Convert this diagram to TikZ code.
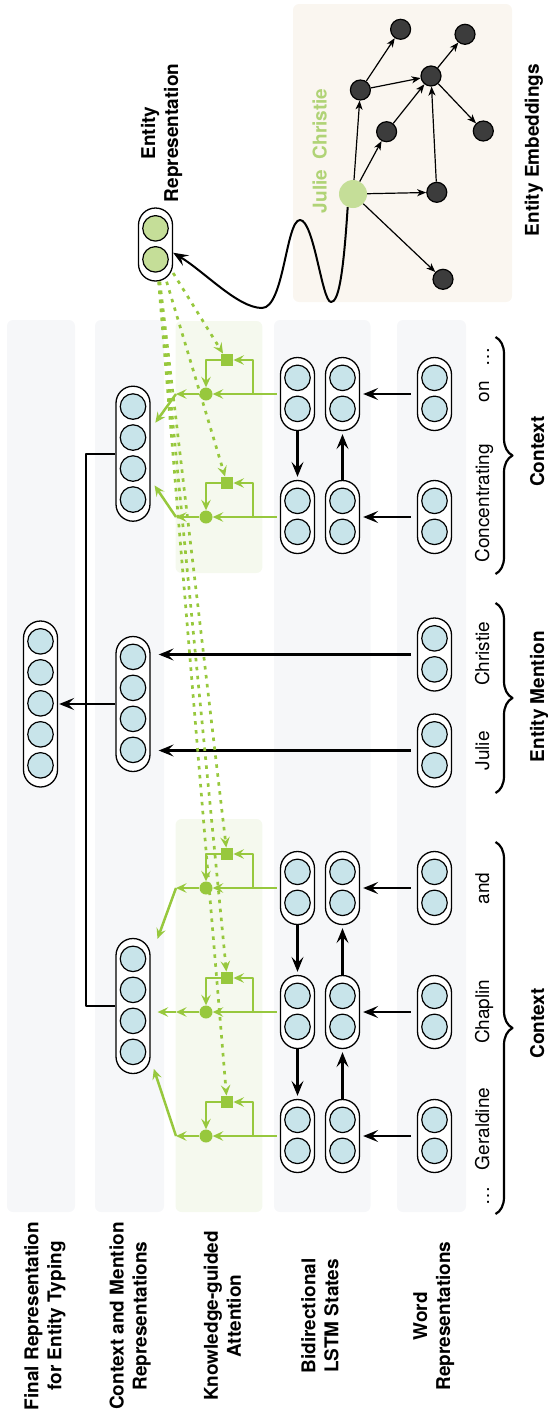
\documentclass[tikz,border=0pt]{standalone}
\usepackage{fontspec}
\setmainfont{TeX Gyre Heros}
\usetikzlibrary{arrows.meta,calc,decorations.pathreplacing}

\definecolor{cellblue}{RGB}{200,228,234}
\definecolor{attgreen}{RGB}{151,200,61}
\definecolor{ergreen}{RGB}{197,222,152}
\definecolor{jcgreen}{RGB}{176,211,118}
\definecolor{stripgray}{RGB}{246,247,249}
\definecolor{stripgreen}{RGB}{245,249,238}
\definecolor{kbbeige}{RGB}{250,246,240}
\definecolor{kbdark}{RGB}{60,60,60}

\tikzset{
  pill/.style={draw, fill=white, line width=1.3pt, rounded corners=17pt, minimum width=34pt, inner sep=0pt},
  cell/.style={circle, draw, line width=1.2pt, minimum size=25.5pt, inner sep=0pt},
  blk/.style={-{Stealth[length=15pt,width=12pt,inset=6pt]}, line width=2.3pt},
  conn/.style={line width=2pt},
  garr/.style={-{Stealth[length=10.5pt,width=9.5pt,inset=4pt]}, draw=attgreen, line width=2.5pt},
  dotarr/.style={garr, line width=2.7pt, dash pattern=on 3.5pt off 5.5pt},
  attdot/.style={circle, fill=attgreen, minimum size=13pt, inner sep=0pt},
  attsq/.style={rectangle, fill=attgreen, minimum size=12.5pt, inner sep=0pt},
  kbnode/.style={circle, draw=black, fill=kbdark, line width=1.2pt, minimum size=20pt, inner sep=0pt},
  kbarr/.style={-{Stealth[length=9pt,width=7pt,inset=2.5pt]}, line width=1.2pt},
  brc/.style={decorate, decoration={brace, amplitude=17pt}, line width=2.2pt},
  lbl/.style={rotate=90, align=center, font=\fontsize{19}{23}\selectfont\bfseries},
  wordlbl/.style={rotate=90, anchor=base, font=\fontsize{19}{23}\selectfont}
}

% pill with a column of cells: name, centre, cells, fill
\newcommand{\vecpill}[4]{%
  \node[pill, minimum height={(#3-1)*31+42}] (#1) at (#2) {};
  \foreach \k in {1,...,#3}
    \node[cell, fill=#4] (#1-\k) at ($(#1.north)+(0,{21+(\k-1)*31})$) {};
}

\begin{document}
\begin{tikzpicture}[x=1pt, y=-1pt, line join=round]
\useasboundingbox (0,0) rectangle (547,1417);

% background strips
\fill[stripgray, rounded corners=6pt] (7,320) rectangle (75,1212);
\fill[stripgray, rounded corners=6pt] (95,320) rectangle (164,1212);
\fill[stripgray, rounded corners=6pt] (274,320) rectangle (370.5,1212);
\fill[stripgray, rounded corners=6pt] (397,320) rectangle (466,1212);
\fill[stripgreen, rounded corners=6pt] (175.5,321) rectangle (262.4,573);
\fill[stripgreen, rounded corners=6pt] (175.5,819) rectangle (262.4,1212);
\fill[kbbeige, rounded corners=6pt] (293,4) rectangle (512,302);

% entity embeddings
\node[circle, fill=ergreen, minimum size=28pt, inner sep=0pt] (jc) at (353,194) {};
\node[kbnode] (n1) at (400.6,29.3) {};
\node[kbnode] (n2) at (465,34.3) {};
\node[kbnode] (n3) at (360.4,90) {};
\node[kbnode] (n4) at (431,76) {};
\node[kbnode] (n5) at (386.6,131.7) {};
\node[kbnode] (n6) at (483.3,131) {};
\node[kbnode] (n7) at (436.8,192.3) {};
\node[kbnode] (n8) at (443,279.3) {};
\draw[kbarr] (jc) -- (n3);
\draw[kbarr] (jc) -- (n5);
\draw[kbarr] (jc) -- (n7);
\draw[kbarr] (jc) -- (n8);
\draw[kbarr] (n3) -- (n1);
\draw[kbarr] (n3) -- (n4);
\draw[kbarr] (n5) -- (n4);
\draw[kbarr] (n7) -- (n4);
\draw[kbarr] (n4) -- (n2);
\draw[kbarr] (n4) -- (n6);

% entity representation
\vecpill{er}{155.5,244.5}{2}{ergreen}
\draw[blk, line width=2pt] (jc.-112) .. controls (343,280) and (338,302) .. (331,302)
  .. controls (322,302) and (314,220) .. (300,220)
  .. controls (286,220) and (284,308) .. (262,308)
  .. controls (238,308) and (205,272) .. (er.-25);

% context words: word, LSTM and attention
\foreach \n/\y in {on/394,conc/517,and/888,chap/1012,ger/1136}{
  \vecpill{w\n}{434.5,\y}{2}{cellblue}
  \vecpill{b\n}{297.5,\y}{2}{cellblue}
  \vecpill{f\n}{342.5,\y}{2}{cellblue}
  \draw[blk, shorten <=6pt, shorten >=3pt] (w\n) -- (f\n);
  \node[attdot] (a\n) at (206,\y) {};
  \node[attsq] (q\n) at (227,\y-34) {};
  \coordinate (j\n) at (253,\y);
  \coordinate (k\n) at (176,\y);
  \draw[garr, shorten <=3pt] (b\n) -- (a\n);
  \draw[garr] (j\n) |- (q\n);
  \draw[garr] (q\n) -| (a\n);
  \draw[garr] (a\n) -- (k\n);
}
\draw[blk, shorten >=3pt] (bon) -- (bconc);
\draw[blk, shorten >=3pt] (fconc) -- (fon);
\draw[blk, shorten >=3pt] (band) -- (bchap);
\draw[blk, shorten >=3pt] (bchap) -- (bger);
\draw[blk, shorten >=3pt] (fger) -- (fchap);
\draw[blk, shorten >=3pt] (fchap) -- (fand);

% mention words
\vecpill{wchris}{434.5,654.5}{2}{cellblue}
\vecpill{wjulie}{434.5,750.5}{2}{cellblue}

% context, mention and final representations
\vecpill{ctxa}{133,453.7}{4}{cellblue}
\vecpill{ctxb}{133,1006}{4}{cellblue}
\vecpill{men}{133,704}{4}{cellblue}
\vecpill{fin}{40.5,704}{5}{cellblue}
\draw[blk, shorten <=6pt, shorten >=8pt] (wchris) -- (wchris -| men.east);
\draw[blk, shorten <=6pt, shorten >=8pt] (wjulie) -- (wjulie -| men.east);
\draw[conn] (ctxa.west) -- ++(-29.5,0) |- (ctxb.west);
\draw[blk, shorten >=1pt] (men) -- (fin);

\draw[garr, shorten >=8pt] (kon) -- (ctxa);
\draw[garr, shorten >=7pt] (kconc) -- (ctxa);
\draw[garr, shorten >=20pt] (kand) -- (ctxb);
\draw[garr, shorten >=7pt] (kchap) -- (kchap -| ctxb.east);
\draw[garr, shorten >=10pt] (kger) -- (ctxb);

% knowledge-guided attention from the entity
\foreach \n in {on,conc,and,chap,ger}
  \draw[dotarr] (er) -- (q\n);

% braces
\draw[brc] (495.5,337) -- (495.5,574);
\draw[brc] (495.5,603) -- (495.5,793);
\draw[brc] (495.5,842) -- (495.5,1214);

% texts
\node[wordlbl] (t0) at (489,356.7) {…};
\node[wordlbl] (t1) at (489,391.7) {on};
\node[wordlbl] (t2) at (489,503.3) {Concentrating};
\node[wordlbl] (t3) at (489,653.8) {Christie};
\node[wordlbl] (t4) at (489,750.8) {Julie};
\node[wordlbl] (t5) at (489,888.3) {and};
\node[wordlbl] (t6) at (489,1011.7) {Chaplin};
\node[wordlbl] (t7) at (489,1129) {Geraldine};
\node[wordlbl] (t8) at (489,1195.6) {…};
\node[lbl, anchor=base] (lc1) at (544,451.7) {Context};
\node[lbl, anchor=base] (lem) at (544,696.7) {Entity Mention};
\node[lbl, anchor=base] (lc2) at (544,1023.3) {Context};
\node[lbl] (lfin) at (45,1316) {Final Representation\\for Entity Typing};
\node[lbl] (lctx) at (130.2,1316) {Context and Mention\\Representations};
\node[lbl] (latt) at (222.4,1316) {Knowledge-guided\\Attention};
\node[lbl] (llstm) at (320,1316) {Bidirectional\\LSTM States};
\node[lbl] (lword) at (433.8,1316) {Word\\Representations};
\node[lbl] (ler) at (161.6,133) {Entity\\Representation};
\node[lbl, anchor=base, text=jcgreen] (ljc) at (326.7,150.8) {Julie~~Christie};
\node[lbl, anchor=base] (lkb) at (538.8,150) {Entity Embeddings};
\end{tikzpicture}
\end{document}
